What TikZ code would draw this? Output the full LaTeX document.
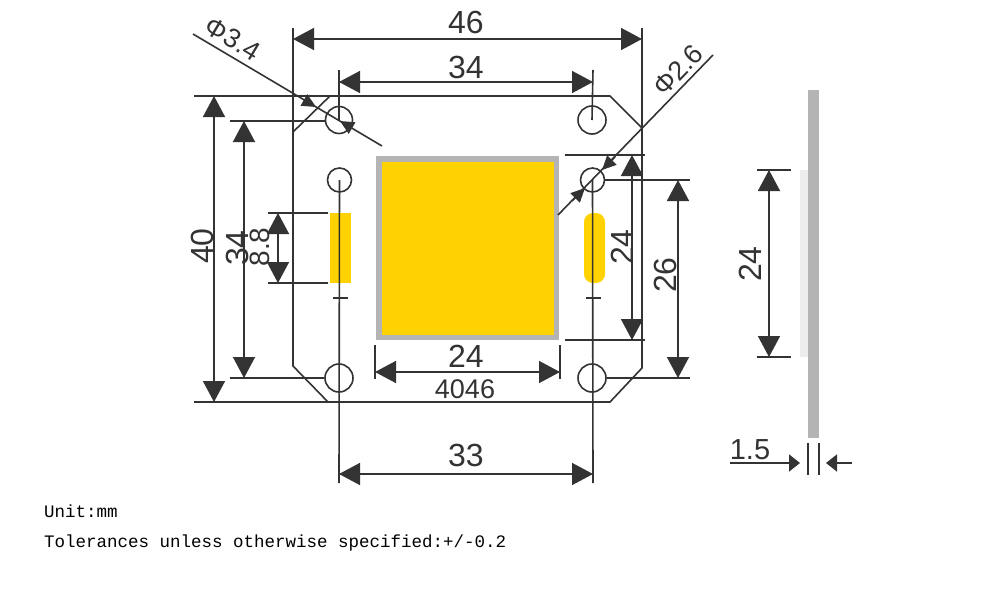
\documentclass[tikz,border=0pt]{standalone}
\usepackage{fontspec}
\setmainfont{Liberation Sans}
\newfontfamily\notefont{Liberation Mono}
\usetikzlibrary{arrows.meta}
\definecolor{inkdark}{HTML}{333333}
\definecolor{padyellow}{HTML}{FFD200}
\definecolor{rimgray}{HTML}{B4B4B4}
\definecolor{palegray}{HTML}{EDEDED}
\tikzset{
	line/.style={draw=inkdark,line width=1.6pt},
	dim/.style={line,{Triangle[length=21pt,width=22pt]}-{Triangle[length=21pt,width=22pt]},shorten <=0pt,shorten >=0pt},
	tiphead/.style={line,-{Triangle[length=14pt,width=13pt]}},
	thinhead/.style={line,-{Triangle[length=11pt,width=17pt]}},
	hole/.style={circle,draw=inkdark,line width=1.6pt,inner sep=0pt,minimum size=#1},
	num/.style={text=inkdark,inner sep=0pt,font=\fontsize{32}{32}\selectfont},
	note/.style={anchor=west,inner sep=0pt,font=\notefont\fontsize{17.5}{17.5}\selectfont}
}
\begin{document}
\begin{tikzpicture}[x=1pt,y=-1pt]
	\useasboundingbox (0,0) rectangle (989,600);
	\fill [rimgray] (376,156) rectangle (559,340);
	\fill [padyellow] (382,162) rectangle (554,335);
	\fill [padyellow] (330,213) rectangle (351,283);
	\fill [padyellow,rounded corners=9pt] (584,213) rectangle (605,283);
	\fill [rimgray] (808,90) rectangle (819,438);
	\fill [palegray] (800,170) rectangle (808,357);
	\node [hole=27pt] (holeTL) at (339,120) {};
	\node [hole=28pt] (holeTR) at (592,120) {};
	\node [hole=24pt] (holeML) at (339.5,180) {};
	\node [hole=24pt] (holeMR) at (592.5,180) {};
	\node [hole=28pt] (holeBL) at (339,378) {};
	\node [hole=28pt] (holeBR) at (592,378) {};
	\coordinate (edgeTL) at (293,28);
	\coordinate (edgeTR) at (642,28);
	\coordinate (chamTLa) at (293,132);
	\coordinate (chamTLb) at (330,96);
	\coordinate (chamTRa) at (610,96);
	\coordinate (chamTRb) at (642,128);
	\coordinate (chamBRa) at (642,368);
	\coordinate (chamBRb) at (610,402);
	\coordinate (chamBLa) at (328,402);
	\coordinate (chamBLb) at (293,366);
	\coordinate (topOut) at (194,96);
	\coordinate (botOut) at (194,402);
	\draw [line] (edgeTL) -- (chamBLb) -- (chamBLa);
	\draw [line] (chamTLa) -- (chamTLb);
	\draw [line] (topOut) -- (chamTRa) -- (chamTRb);
	\draw [line] (edgeTR) -- (chamBRa) -- (chamBRb) -- (botOut);
	\coordinate (extLa) at (339,70);
	\coordinate (extRa) at (593,70);
	\coordinate (extLb) at (339,483);
	\coordinate (extRb) at (593,483);
	\draw [line] (extLa) -- (holeTL.center);
	\draw [line] (extRa) -- (holeTR.center);
	\draw [line] (holeML.center) -- (extLb);
	\draw [line] (holeMR.center) -- (extRb);
	\coordinate (tickLa) at (333,298);
	\coordinate (tickLb) at (348,298);
	\coordinate (tickRa) at (586,298);
	\coordinate (tickRb) at (601,298);
	\draw [line] (tickLa) -- (tickLb);
	\draw [line] (tickRa) -- (tickRb);
	\coordinate (w46a) at (293,39);
	\coordinate (w46b) at (642,39);
	\draw [dim] (w46a) -- (w46b);
	\node [num] (lab46) at (466,22) {46};
	\coordinate (w34a) at (339,82);
	\coordinate (w34b) at (593,82);
	\draw [dim] (w34a) -- (w34b);
	\node [num] (lab34) at (466,67) {34};
	\coordinate (w24a) at (375,372);
	\coordinate (w24b) at (560,372);
	\coordinate (w24at) at (375,345);
	\coordinate (w24ab) at (375,379);
	\coordinate (w24bt) at (560,345);
	\coordinate (w24bb) at (560,379);
	\draw [line] (w24at) -- (w24ab);
	\draw [line] (w24bt) -- (w24bb);
	\draw [dim] (w24a) -- (w24b);
	\node [num] (lab24) at (466,356) {24};
	\node [num,font=\fontsize{27}{27}\selectfont] (lab4046) at (465,389) {4046};
	\coordinate (w33a) at (339,474);
	\coordinate (w33b) at (593,474);
	\draw [dim] (w33a) -- (w33b);
	\node [num] (lab33) at (466,455) {33};
	\coordinate (h40a) at (214,96);
	\coordinate (h40b) at (214,402);
	\draw [dim] (h40a) -- (h40b);
	\node [num,rotate=90] (lab40) at (202,246) {40};
	\coordinate (h34a) at (244,121);
	\coordinate (h34b) at (244,378);
	\coordinate (h34ta) at (230,121);
	\coordinate (h34tb) at (325,121);
	\coordinate (h34ba) at (230,378);
	\draw [line] (h34ta) -- (h34tb);
	\draw [line] (h34ba) -- (holeBL);
	\draw [dim] (h34a) -- (h34b);
	\node [num,rotate=90] (labside34) at (237,248) {34};
	\coordinate (h88a) at (278,213);
	\coordinate (h88b) at (278,283);
	\coordinate (h88ta) at (268,213);
	\coordinate (h88tb) at (328,213);
	\coordinate (h88ba) at (268,283);
	\coordinate (h88bb) at (328,283);
	\draw [line] (h88ta) -- (h88tb);
	\draw [line] (h88ba) -- (h88bb);
	\draw [dim] (h88a) -- (h88b);
	\node [num,rotate=90,font=\fontsize{28}{28}\selectfont] (lab88) at (260,247) {8.8};
	\coordinate (r24a) at (632,155);
	\coordinate (r24b) at (632,340);
	\coordinate (r24ta) at (565,155);
	\coordinate (r24tb) at (645,155);
	\coordinate (r24ba) at (565,340);
	\coordinate (r24bb) at (645,340);
	\draw [line] (r24ta) -- (r24tb);
	\draw [line] (r24ba) -- (r24bb);
	\draw [dim] (r24a) -- (r24b);
	\node [num,rotate=90] (labright24) at (622,247) {24};
	\coordinate (r26a) at (678,180);
	\coordinate (r26b) at (678,378);
	\coordinate (r26t) at (690,180);
	\coordinate (r26u) at (690,378);
	\draw [line] (holeMR) -- (r26t);
	\draw [line] (holeBR) -- (r26u);
	\draw [dim] (r26a) -- (r26b);
	\node [num,rotate=90] (lab26) at (665,275) {26};
	\coordinate (leadAa) at (193,34);
	\coordinate (leadAb) at (382,146);
	\coordinate (leadAc) at (304,100);
	\coordinate (leadAd) at (316,107);
	\coordinate (leadAe) at (352,128);
	\coordinate (leadAf) at (340,121);
	\draw [line] (leadAa) -- (leadAb);
	\draw [tiphead] (leadAc) -- (leadAd);
	\draw [tiphead] (leadAe) -- (leadAf);
	\node [num,rotate=-31,font=\fontsize{27}{27}\selectfont] (labphiA) at (233,39) {Φ3.4};
	\coordinate (leadBa) at (713,55);
	\coordinate (leadBb) at (558,215);
	\coordinate (leadBc) at (615,157);
	\coordinate (leadBd) at (602,170);
	\coordinate (leadBe) at (572,201);
	\coordinate (leadBf) at (585,188);
	\draw [line] (leadBa) -- (leadBb);
	\draw [tiphead] (leadBc) -- (leadBd);
	\draw [tiphead] (leadBe) -- (leadBf);
	\node [num,rotate=46,font=\fontsize{27}{27}\selectfont] (labphiB) at (678,70) {Φ2.6};
	\coordinate (s24a) at (769,170);
	\coordinate (s24b) at (769,357);
	\coordinate (s24ta) at (757,170);
	\coordinate (s24tb) at (791,170);
	\coordinate (s24ba) at (757,357);
	\coordinate (s24bb) at (791,357);
	\draw [line] (s24ta) -- (s24tb);
	\draw [line] (s24ba) -- (s24bb);
	\draw [dim] (s24a) -- (s24b);
	\node [num,rotate=90] (labside24) at (750,264) {24};
	\coordinate (thinLt) at (808,443);
	\coordinate (thinLb) at (808,475);
	\coordinate (thinRt) at (819,443);
	\coordinate (thinRb) at (819,475);
	\draw [line] (thinLt) -- (thinLb);
	\draw [line] (thinRt) -- (thinRb);
	\coordinate (thinAa) at (730,463);
	\coordinate (thinAb) at (800,463);
	\coordinate (thinBa) at (852,463);
	\coordinate (thinBb) at (826,463);
	\draw [thinhead] (thinAa) -- (thinAb);
	\draw [thinhead] (thinBa) -- (thinBb);
	\node [num,font=\fontsize{29}{29}\selectfont] (lab15) at (750,450) {1.5};
	\node [note] (noteUnit) at (44,511) {Unit:mm};
	\node [note] (noteTol) at (44,543) {Tolerances unless otherwise specified:+/-0.2};
\end{tikzpicture}
\end{document}
